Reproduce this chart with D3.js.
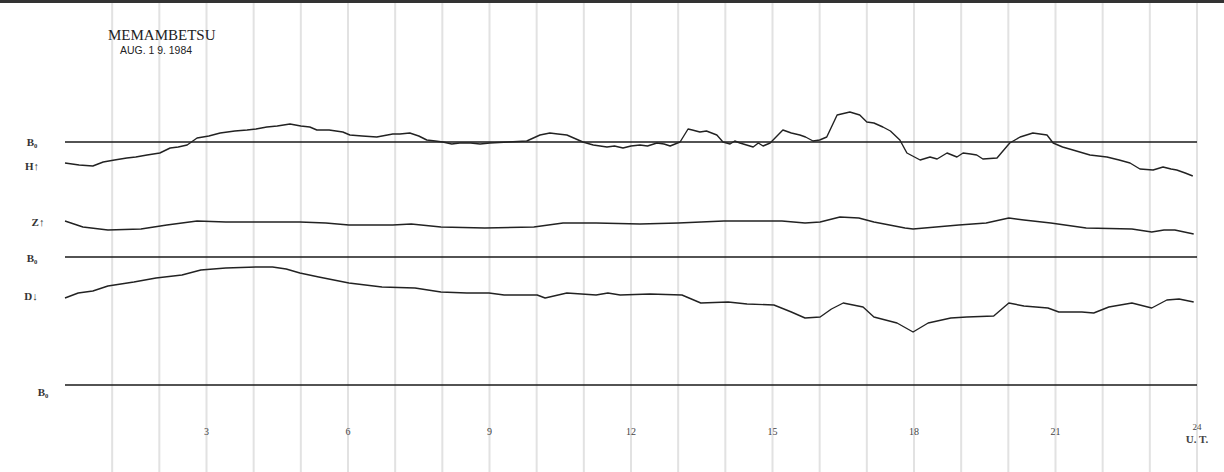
<!DOCTYPE html>
<html>
<head>
<meta charset="utf-8">
<script src="https://cdn.jsdelivr.net/npm/d3@7"></script>
<style>
  body { margin: 0; background: #fff; }
  svg { display: block; }
</style>
</head>
<body>
<div id="chart"></div>
<script>
// Memambetsu magnetogram, 1984-08-19 (hours UT, deflection in nT from reference)
const station = "MEMAMBETSU";
const dateLabel = "AUG. 1 9. 1984";
const hourTicks = [3, 6, 9, 12, 15, 18, 21, 24];

// H component, upward positive, relative to B0
const hTrace = [
  [0, -21], [0.3, -23], [0.59, -24], [0.81, -20], [1.05, -18], [1.31, -16], [1.5, -15], [1.74, -13], [2.01, -11],
  [2.23, -6], [2.4, -5], [2.59, -3], [2.8, 4], [3.05, 6], [3.29, 9], [3.6, 11], [3.86, 12], [4.05, 13], [4.28, 15],
  [4.5, 16], [4.77, 18], [5.0, 16], [5.19, 15], [5.34, 12], [5.6, 12], [5.89, 10], [6.04, 7], [6.3, 6],
  [6.61, 5], [6.95, 8], [7.1, 8], [7.31, 9], [7.5, 6], [7.67, 2], [7.85, 1], [8.01, 0], [8.2, -2], [8.37, -1],
  [8.6, -1], [8.8, -2], [9.01, -1], [9.4, 0], [9.79, 1], [10.07, 7], [10.28, 9], [10.45, 8], [10.64, 7],
  [10.98, 0], [11.2, -3], [11.49, -5], [11.65, -4], [11.83, -6], [12.0, -4], [12.19, -3], [12.35, -4], [12.55, -1],
  [12.7, -2], [12.83, -4], [13.04, 0], [13.21, 13], [13.3, 12], [13.46, 10], [13.6, 11], [13.82, 7], [13.95, 0],
  [14.1, -2], [14.2, 1], [14.31, -1], [14.45, -3], [14.59, -5], [14.7, -1], [14.8, -4], [14.95, -1], [15.22, 12],
  [15.4, 9], [15.58, 7], [15.7, 5], [15.86, 1], [16.0, 2], [16.15, 5], [16.37, 27], [16.64, 30], [16.85, 27],
  [17.0, 20], [17.15, 19], [17.34, 15], [17.5, 11], [17.7, 2], [17.85, -11], [18.13, -18], [18.34, -15],
  [18.49, -17], [18.7, -11], [18.91, -15], [19.04, -11], [19.2, -12], [19.33, -13], [19.46, -17], [19.76, -16],
  [20.03, -1], [20.25, 5], [20.52, 9], [20.82, 7], [20.95, -1], [21.15, -5], [21.37, -8], [21.73, -13],
  [22.09, -15], [22.35, -18], [22.58, -21], [22.79, -27], [23.07, -28], [23.28, -25], [23.45, -27], [23.57, -28],
  [23.75, -31], [23.91, -34]
];

// Z component, upward positive
const zTrace = [
  [0, 1], [0.38, -5], [0.91, -8], [1.61, -7], [2.16, -3], [2.8, 1], [3.41, 0], [4.2, 0], [4.98, 0], [5.53, -1],
  [6.02, -3], [6.95, -3], [7.34, -2], [7.97, -5], [8.9, -6], [9.94, -5], [10.56, -1], [11.26, -1], [12.19, -2],
  [13.0, -1], [13.97, 1], [15.2, 1], [15.69, -1], [16.01, 0], [16.43, 5], [16.83, 4], [17.15, 0], [17.81, -6],
  [17.98, -7], [18.95, -3], [19.53, -1], [20.01, 4], [20.33, 2], [20.9, -1], [21.65, -6], [22.62, -7],
  [23.04, -10], [23.3, -8], [23.53, -8], [23.93, -12]
];

// D component, downward positive, relative to B0
const dTrace = [
  [0, 41], [0.28, 36], [0.59, 34], [0.91, 29], [1.46, 25], [1.93, 21], [2.48, 18], [2.88, 13], [3.41, 11],
  [4.05, 10], [4.4, 10], [4.69, 12], [4.98, 16], [5.38, 20], [6.02, 26], [6.72, 30], [7.42, 31], [7.97, 35],
  [8.52, 36], [8.99, 36], [9.31, 38], [10.01, 38], [10.18, 41], [10.64, 36], [11.26, 38], [11.51, 36],
  [11.77, 38], [12.4, 37], [13.08, 38], [13.48, 46], [14.06, 45], [14.46, 47], [15.03, 48], [15.4, 55],
  [15.69, 61], [16.01, 60], [16.25, 52], [16.5, 46], [16.92, 50], [17.15, 60], [17.64, 66], [17.98, 75],
  [18.3, 66], [18.78, 61], [19.12, 60], [19.69, 59], [20.01, 46], [20.33, 49], [20.84, 51], [21.07, 55],
  [21.56, 55], [21.81, 56], [22.13, 50], [22.62, 46], [23.04, 51], [23.36, 43], [23.62, 42], [23.93, 45]
];

const width = 1224;
const height = 472;

const svg = d3.select("#chart").append("svg")
  .attr("width", width)
  .attr("height", height)
  .style("font-family", "'Liberation Serif', 'DejaVu Serif', serif");

const x = d3.scaleLinear().domain([0, 24]).range([65, 1197]);

// one scale per trace, 1 px per nT
const yH = d3.scaleLinear().domain([-50, 50]).range([192, 92]);
const yZ = d3.scaleLinear().domain([-50, 50]).range([272, 172]);
const yD = d3.scaleLinear().domain([-50, 80]).range([207, 337]);
const yB = d3.scaleLinear().domain([-50, 50]).range([435, 335]);

// top border of the sheet
svg.append("rect")
  .attr("width", width)
  .attr("height", 3)
  .style("fill", "#333");

// hourly grid
svg.append("g").selectAll("line").data(d3.range(1, 25)).enter().append("line")
  .attr("x1", (d) => x(d))
  .attr("x2", (d) => x(d))
  .attr("y1", 3)
  .attr("y2", height)
  .style("stroke", "#e2e2e2")
  .style("stroke-width", 2);

// baselines
const baselines = [yH(0), yD(0), yB(0)];
svg.append("g").selectAll("line").data(baselines).enter().append("line")
  .attr("x1", x(0))
  .attr("x2", x(24))
  .attr("y1", (d) => d)
  .attr("y2", (d) => d)
  .style("stroke", "#1a1a1a")
  .style("stroke-width", 1.6);

const drawTrace = (data, yScale) => {
  svg.append("path")
    .datum(data)
    .attr("d", d3.line().x((d) => x(d[0])).y((d) => yScale(d[1])))
    .style("fill", "none")
    .style("stroke", "#222")
    .style("stroke-width", 1.4)
    .style("stroke-linejoin", "round");
};

drawTrace(hTrace, yH);
drawTrace(zTrace, yZ);
drawTrace(dTrace, yD);

// left labels
const leftLabels = [
  { text: "B\u2080", x: 32, y: yH(0) },
  { text: "H\u2191", x: 32, y: 166 },
  { text: "Z\u2191", x: 38, y: yZ(0) },
  { text: "B\u2080", x: 32, y: yD(0) + 1 },
  { text: "D\u2193", x: 31, y: 296 },
  { text: "B\u2080", x: 43, y: yB(0) + 7 }
];
svg.append("g").selectAll("text").data(leftLabels).enter().append("text")
  .attr("x", (d) => d.x)
  .attr("y", (d) => d.y)
  .attr("dy", "0.35em")
  .attr("text-anchor", "middle")
  .style("font-size", "11px")
  .style("font-weight", "bold")
  .style("fill", "#333")
  .text((d) => d.text);

// title
svg.append("text")
  .attr("x", 108)
  .attr("y", 40)
  .style("font-size", "15px")
  .style("fill", "#222")
  .text(station);

svg.append("text")
  .attr("x", 120)
  .attr("y", 54)
  .attr("textLength", 72)
  .attr("lengthAdjust", "spacingAndGlyphs")
  .style("font-family", "'Liberation Sans', Arial, sans-serif")
  .style("font-size", "11px")
  .style("fill", "#222")
  .text(dateLabel);

// hour labels
svg.append("g").selectAll("text").data(hourTicks).enter().append("text")
  .attr("x", (d) => x(d))
  .attr("y", (d) => d === 24 ? 430 : 435)
  .attr("text-anchor", "middle")
  .style("font-size", (d) => d === 24 ? "9px" : "10px")
  .style("fill", "#444")
  .text((d) => d);

svg.append("text")
  .attr("x", x(24))
  .attr("y", 443)
  .attr("text-anchor", "middle")
  .style("font-size", "11px")
  .style("font-weight", "bold")
  .style("fill", "#444")
  .text("U. T.");
</script>
</body>
</html>
